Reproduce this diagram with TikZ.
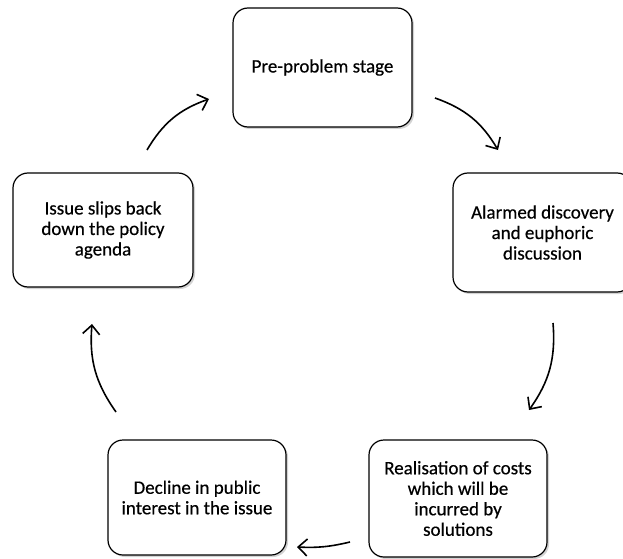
\documentclass[tikz,border=0pt]{standalone}
\usepackage{fontspec}
\setmainfont{Carlito}
\newfontfamily\stagefont[FakeBold=0.4]{Carlito}
\usetikzlibrary{positioning}
\usetikzlibrary{shadows}
\usetikzlibrary{arrows.meta}

\begin{document}
\begin{tikzpicture}[x=1pt, y=1pt]
  \tikzstyle{stage}=[rectangle, rounded corners = 15pt, draw = black, line width = 1.2pt, fill = white, align = center, font = \stagefont\fontsize{19}{20.5}\selectfont, drop shadow = {shadow xshift = 2pt, shadow yshift = -2pt, opacity = 0.35}]
  \tikzstyle{connect}=[-{Straight Barb[length = 9pt, width = 17pt]}, line width = 1.6pt, bend left = 20]

  \useasboundingbox (0,0) rectangle (623,558);

  \node[stage, minimum width = 179pt, minimum height = 119pt] (pre) at (322.5,490.5) {Pre-problem stage};
  \node[stage, minimum width = 179pt, minimum height = 119pt] (alarm) at (542.5,325.5) {Alarmed discovery\\and euphoric\\discussion};
  \node[stage, minimum width = 178pt, minimum height = 117pt] (cost) at (458,59.5) {Realisation of costs\\which will be\\incurred by\\solutions};
  \node[stage, minimum width = 178pt, minimum height = 115pt] (decline) at (197,60.5) {Decline in public\\interest in the issue};
  \node[stage, minimum width = 180pt, minimum height = 114pt] (slip) at (103,328) {Issue slips back\\down the policy\\agenda};

  % arrow ends
  \coordinate (a1s) at (147,408);
  \coordinate (a1e) at (209,459);
  \coordinate (a2s) at (435,460);
  \coordinate (a2e) at (498,408);
  \coordinate (a3s) at (553,235);
  \coordinate (a3e) at (529,148);
  \coordinate (a4s) at (350,16);
  \coordinate (a4e) at (297,11);
  \coordinate (a5s) at (116,146);
  \coordinate (a5e) at (92,234);

  \draw[connect] (a1s) to (a1e);
  \draw[connect] (a2s) to (a2e);
  \draw[connect] (a3s) to (a3e);
  \draw[connect, bend left = 8] (a4s) to (a4e);
  \draw[connect] (a5s) to (a5e);

\end{tikzpicture}
\end{document}
